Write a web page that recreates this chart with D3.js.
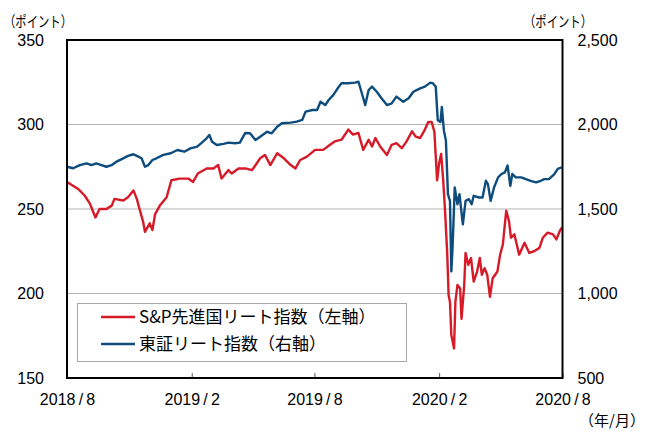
<!DOCTYPE html>
<html>
<head>
<meta charset="utf-8">
<script src="https://cdn.jsdelivr.net/npm/d3@7"></script>
<style>
  body { margin: 0; background: #fff; }
  text { font-family: "Liberation Sans", Arial, sans-serif; fill: #000; }
  .jp { font-family: "Noto Sans CJK JP", "Liberation Sans", sans-serif; }
  .axis path { display: none; }
  .axis text { font-size: 16px; }
</style>
</head>
<body>
<script>
// DATA
var spDates = [
  '2018-08-01','2018-08-17','2018-08-27','2018-09-04','2018-09-12','2018-09-18','2018-09-28','2018-10-06',
  '2018-10-10','2018-10-23','2018-10-30','2018-11-07','2018-11-12','2018-11-16','2018-11-21','2018-11-24',
  '2018-12-01','2018-12-05','2018-12-09','2018-12-16','2018-12-26','2019-01-02','2019-01-14','2019-01-27',
  '2019-02-03','2019-02-10','2019-02-23','2019-03-05','2019-03-12','2019-03-17','2019-03-27','2019-04-01',
  '2019-04-11','2019-04-21','2019-05-01','2019-05-13','2019-05-20','2019-05-28','2019-06-07','2019-06-17',
  '2019-06-27','2019-07-04','2019-07-11','2019-07-21','2019-08-02','2019-08-14','2019-08-24','2019-08-31',
  '2019-09-10','2019-09-20','2019-09-27','2019-10-05','2019-10-12','2019-10-20','2019-10-25','2019-10-30',
  '2019-11-06','2019-11-16','2019-11-23','2019-11-30','2019-12-08','2019-12-15','2019-12-23','2019-12-28',
  '2020-01-04','2020-01-11','2020-01-16','2020-01-21','2020-01-25','2020-01-29','2020-02-01','2020-02-04',
  '2020-02-07','2020-02-10','2020-02-13','2020-02-15','2020-02-17','2020-02-19','2020-02-23','2020-02-25',
  '2020-02-28','2020-03-03','2020-03-05','2020-03-09','2020-03-11','2020-03-15','2020-03-19','2020-03-23',
  '2020-03-28','2020-04-01','2020-04-04','2020-04-08','2020-04-12','2020-04-16','2020-04-20','2020-04-27',
  '2020-05-01','2020-05-05','2020-05-10','2020-05-14','2020-05-17','2020-05-22','2020-05-29','2020-06-06',
  '2020-06-13','2020-06-20','2020-06-28','2020-07-03','2020-07-10','2020-07-18','2020-07-23','2020-07-28',
  '2020-07-31'
];
var spValues = [
  266,262,258,253,245,250,250,252, 256,255,257,261,256,250,243,236.5,
  241.5,237.5,247,252,257,267,268,268, 266,271,274,274,276,268,273,271,
  274,274,273,280,282,276,283,280, 276,274,279,281,285,285,288,290,
  291,297,294,295,285,291,287,292, 287,282,288,289,286,290,296,293,
  292,297,301.5,301.5,295.6,267,277,282.6, 267,247,223,199,195,175.5,167.5,195,
  205,203,185,205,224,217,221,207, 213,221,211,215,211,198,209,213,
  223,229,249,243,233,235,223,230, 224,225,227,233,236,235,232,237,
  239
];

var tseDates = [
  '2018-08-01','2018-08-10','2018-08-20','2018-08-30','2018-09-06','2018-09-13','2018-09-21','2018-09-28',
  '2018-10-06','2018-10-13','2018-10-20','2018-10-30','2018-11-07','2018-11-12','2018-11-19','2018-11-24',
  '2018-11-29','2018-12-05','2018-12-11','2018-12-21','2019-01-01','2019-01-11','2019-01-21','2019-01-30',
  '2019-02-09','2019-02-16','2019-02-23','2019-02-27','2019-03-03','2019-03-10','2019-03-20','2019-03-27',
  '2019-04-06','2019-04-13','2019-04-21','2019-04-28','2019-05-06','2019-05-13','2019-05-23','2019-05-30',
  '2019-06-07','2019-06-14','2019-06-27','2019-07-06','2019-07-14','2019-07-19','2019-07-29','2019-08-05',
  '2019-08-10','2019-08-17','2019-08-22','2019-08-29','2019-09-06','2019-09-10','2019-09-20','2019-09-30',
  '2019-10-05','2019-10-10','2019-10-15','2019-10-20','2019-10-25','2019-11-01','2019-11-08','2019-11-16',
  '2019-11-23','2019-11-30','2019-12-10','2019-12-18','2019-12-25','2020-01-04','2020-01-11','2020-01-19',
  '2020-01-23','2020-01-27','2020-01-30','2020-02-03','2020-02-05','2020-02-08','2020-02-11','2020-02-14',
  '2020-02-17','2020-02-19','2020-02-21','2020-02-24','2020-02-28','2020-03-02','2020-03-07','2020-03-11',
  '2020-03-16','2020-03-20','2020-03-23','2020-03-31','2020-04-05','2020-04-10','2020-04-13','2020-04-17',
  '2020-04-22','2020-04-28','2020-05-03','2020-05-08','2020-05-12','2020-05-16','2020-05-19','2020-05-24',
  '2020-06-01','2020-06-08','2020-06-15','2020-06-23','2020-06-30','2020-07-05','2020-07-12','2020-07-20',
  '2020-07-25','2020-07-31'
];
var tseValues = [
  1750,1741,1760,1770,1760,1770,1760,1750, 1760,1780,1794,1814,1824,1814,1800,1750,
  1760,1790,1800,1820,1830,1849,1839,1859, 1869,1893,1918,1938,1898,1879,1885,1893,
  1889,1893,1950,1948,1908,1928,1957,1948, 1987,2007,2011,2017,2027,2076,2086,2086,
  2135,2115,2145,2175,2224,2244,2244,2248, 2253,2185,2115,2204,2224,2194,2155,2115,
  2125,2165,2135,2155,2194,2214,2224,2248, 2243,2223,2025,2015,2104,1965,1905,1588,
  1548,1131,1290,1627,1528,1588,1409,1548, 1558,1528,1578,1568,1568,1667,1647,1548,
  1627,1687,1707,1717,1757,1637,1707,1687, 1687,1677,1667,1657,1667,1677,1677,1707,
  1737,1747
];

var leftTicks = [150, 200, 250, 300, 350];
var rightTicks = [500, 1000, 1500, 2000, 2500];
var xTicks = ['2018-08-01', '2019-02-01', '2019-08-01', '2020-02-01', '2020-08-01'];
var seriesNames = ['S&P先進国リート指数（左軸）', '東証リート指数（右軸）'];
var seriesColors = ['#d71a28', '#0d4c7d'];

// DIMENSIONS
var W = 649, H = 432;
var plot = { left: 67, right: 562.5, top: 40, bottom: 378 };

var parse = d3.timeParse('%Y-%m-%d');

var svg = d3.select('body').append('svg')
  .attr('width', W)
  .attr('height', H);

// SCALES
var x = d3.scaleTime()
  .domain([parse('2018-08-01'), parse('2020-08-01')])
  .range([plot.left, plot.right]);

var yLeft = d3.scaleLinear().domain([150, 350]).range([plot.bottom, plot.top]);
var yRight = d3.scaleLinear().domain([500, 2500]).range([plot.bottom, plot.top]);

// GRIDLINES
svg.append('g')
  .selectAll('line')
  .data(leftTicks.slice(1, -1))
  .enter().append('line')
    .attr('x1', plot.left)
    .attr('x2', plot.right)
    .attr('y1', function(d) { return yLeft(d); })
    .attr('y2', function(d) { return yLeft(d); })
    .attr('stroke', '#b4b4b4')
    .attr('stroke-width', 1.2);

// LINES
var spData = spDates.map(function(d, i) { return { date: parse(d), value: spValues[i] }; });
var tseData = tseDates.map(function(d, i) { return { date: parse(d), value: tseValues[i] }; });

var lineLeft = d3.line()
  .x(function(d) { return x(d.date); })
  .y(function(d) { return yLeft(d.value); });
var lineRight = d3.line()
  .x(function(d) { return x(d.date); })
  .y(function(d) { return yRight(d.value); });

svg.append('path')
  .datum(spData)
  .attr('d', lineLeft)
  .attr('fill', 'none')
  .attr('stroke', seriesColors[0])
  .attr('stroke-width', 2.4)
  .attr('stroke-linejoin', 'round');

svg.append('path')
  .datum(tseData)
  .attr('d', lineRight)
  .attr('fill', 'none')
  .attr('stroke', seriesColors[1])
  .attr('stroke-width', 2.4)
  .attr('stroke-linejoin', 'round');

// AXES
svg.append('g')
  .attr('class', 'axis')
  .attr('transform', 'translate(' + plot.left + ',0)')
  .call(d3.axisLeft(yLeft).tickValues(leftTicks).tickSize(0).tickPadding(23));

svg.append('g')
  .attr('class', 'axis')
  .attr('transform', 'translate(' + plot.right + ',0)')
  .call(d3.axisRight(yRight).tickValues(rightTicks).tickSize(0).tickPadding(15).tickFormat(d3.format(',')));

// thin spaces round the slash, the original labels are spaced out
var xAxis = svg.append('g')
  .attr('class', 'axis')
  .attr('transform', 'translate(0,' + plot.bottom + ')')
  .call(d3.axisBottom(x)
    .tickValues(xTicks.map(parse))
    .tickSize(-5)
    .tickPadding(16)
    .tickFormat(d3.timeFormat('%Y\u2009/\u2009%-m')));
xAxis.selectAll('line').attr('stroke', '#555').attr('stroke-width', 1);

// PLOT BORDER
svg.append('rect')
  .attr('x', plot.left)
  .attr('y', plot.top)
  .attr('width', plot.right - plot.left)
  .attr('height', plot.bottom - plot.top)
  .attr('fill', 'none')
  .attr('stroke', '#000')
  .attr('stroke-width', 2);

// UNIT LABELS (narrow katakana, squeezed like the original)
[[8, 27], [528, 27]].forEach(function(p) {
  svg.append('text').attr('class', 'jp')
    .attr('x', p[0] - 4).attr('y', p[1])
    .attr('textLength', 68)
    .attr('lengthAdjust', 'spacingAndGlyphs')
    .style('font-size', '15px')
    .text('（ポイント）');
});
svg.append('text').attr('class', 'jp')
  .attr('x', 612).attr('y', 426)
  .attr('text-anchor', 'middle')
  .style('font-size', '15px')
  .text('（年/月）');

// LEGEND
var legend = svg.append('g');
legend.append('rect')
  .attr('x', 77.5).attr('y', 303.5)
  .attr('width', 329).attr('height', 58)
  .attr('fill', '#fff')
  .attr('stroke', '#a6a6a6')
  .attr('stroke-width', 1);

var item = legend.selectAll('g.item')
  .data(seriesNames)
  .enter().append('g')
    .attr('class', 'item')
    .attr('transform', function(d, i) { return 'translate(101,' + (317 + i * 27) + ')'; });
item.append('line')
  .attr('x1', 0).attr('x2', 34)
  .attr('stroke', function(d, i) { return seriesColors[i]; })
  .attr('stroke-width', 2.4);
item.append('text')
  .attr('class', 'jp')
  .attr('x', 38)
  .attr('dy', '0.36em')
  .style('font-size', '17px')
  .text(function(d) { return d; });
</script>
</body>
</html>
